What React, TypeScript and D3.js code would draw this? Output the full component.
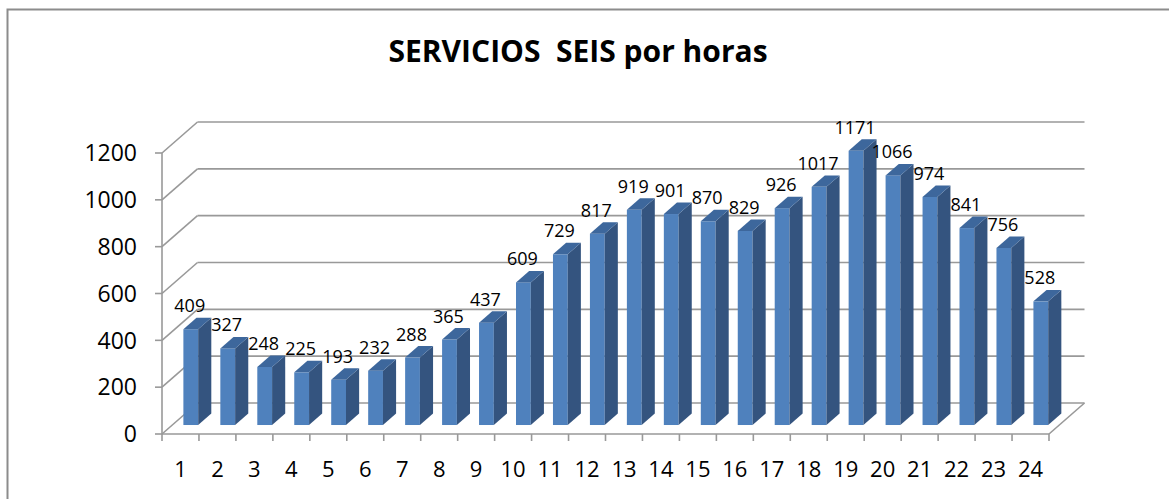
import React from 'react';
import * as d3 from 'd3';

const horas = ['1','2','3','4','5','6','7','8','9','10','11','12','13','14','15','16','17','18','19','20','21','22','23','24'];
const servicios = [409,327,248,225,193,232,288,365,437,609,729,817,919,901,870,829,926,1017,1171,1066,974,841,756,528];
const yTicks = [0,200,400,600,800,1000,1200];
const titulo = 'SERVICIOS  SEIS por horas';

const W = 1169;
const H = 499;
// oblique depth vector of the 3D box
const DX = 35.5;
const DY = -31;
// depth span occupied by the bars
const D0 = 0.29;
const D1 = 0.66;

const left = 162;
const right = 1049;

export default function App() {
  const xCat = d3.scaleBand<string>().domain(horas).range([left, right]);
  const xBar = d3.scaleBand<string>().domain(horas).range([left, right]).paddingInner(0.6).paddingOuter(0.3);
  const y = d3.scaleLinear().domain([0, 1200]).range([434, 153]);
  const bw = xBar.bandwidth();
  const font = "'Open Sans', sans-serif";
  const grid = '#999999';

  return (
    <svg width={W} height={H} style={{ position: 'absolute', left: 0, top: 0, background: '#fff' }}>
      {/* outer frame */}
      <path d={`M7.5,${H} V9.5 H${W}`} fill="none" stroke="#8c8c8c" strokeWidth={2} />
      <text x={578} y={62} textAnchor="middle" fontFamily={font} fontWeight="bold" fontSize={30} fill="#000" style={{ whiteSpace: 'pre' }}>{titulo}</text>

      {/* walls */}
      {yTicks.map(t => (
        <g key={t}>
          <line x1={left} y1={y(t)} x2={left + DX} y2={y(t) + DY} stroke={grid} strokeWidth={1.6} />
          <line x1={left + DX} y1={y(t) + DY} x2={right + DX} y2={y(t) + DY} stroke={grid} strokeWidth={1.6} />
          <line x1={left - 7} y1={y(t)} x2={left} y2={y(t)} stroke={grid} strokeWidth={1.6} />
          <text x={137} y={y(t)} dy="0.36em" textAnchor="end" fontFamily={font} fontSize={23} fill="#000">{t}</text>
        </g>
      ))}
      {/* floor */}
      <line x1={left} y1={y(0)} x2={right} y2={y(0)} stroke={grid} strokeWidth={1.6} />
      <line x1={right} y1={y(0)} x2={right + DX} y2={y(0) + DY} stroke={grid} strokeWidth={1.6} />
      <line x1={left} y1={y(1200)} x2={left} y2={y(0)} stroke={grid} strokeWidth={1.6} />
      {horas.map((h, i) => (
        <line key={'t' + h} x1={left + i * xCat.step()} y1={y(0)} x2={left + i * xCat.step()} y2={y(0) + 7} stroke={grid} strokeWidth={1.6} />
      ))}
      <line x1={right} y1={y(0)} x2={right} y2={y(0) + 7} stroke={grid} strokeWidth={1.6} />
      {horas.map(h => (
        <text key={'l' + h} x={(xCat(h) as number) + xCat.bandwidth() / 2} y={477} textAnchor="middle" fontFamily={font} fontSize={22} fill="#000">{h}</text>
      ))}

      {/* bars */}
      {servicios.map((v, i) => {
        const x0 = (xBar(horas[i]) as number) + DX * D0;
        const yTop = y(v) + DY * D0;
        const yBot = y(0) + DY * D0;
        const ddx = DX * (D1 - D0);
        const ddy = DY * (D1 - D0);
        return (
          <g key={'b' + i}>
            <rect x={x0} y={yTop} width={bw} height={yBot - yTop} fill="#4f81bd" />
            <polygon points={`${x0 + bw},${yTop} ${x0 + bw + ddx},${yTop + ddy} ${x0 + bw + ddx},${yBot + ddy} ${x0 + bw},${yBot}`} fill="#34547f" />
            <polygon points={`${x0},${yTop} ${x0 + bw},${yTop} ${x0 + bw + ddx},${yTop + ddy} ${x0 + ddx},${yTop + ddy}`} fill="#3d679c" />
            <text x={x0 + bw / 2 - 1} y={yTop - 17} textAnchor="middle" fontFamily={font} fontSize={18} fill="#000">{v}</text>
          </g>
        );
      })}
    </svg>
  );
}
